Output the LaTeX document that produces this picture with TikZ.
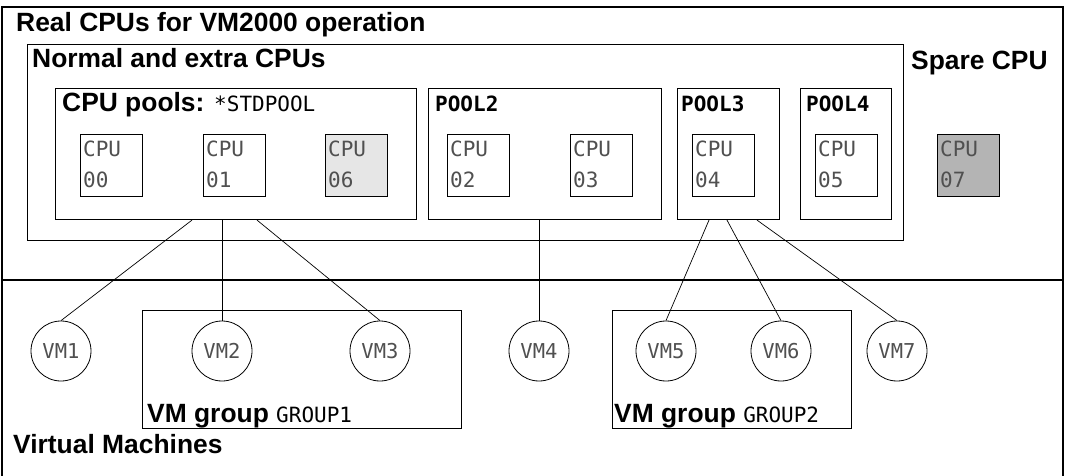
\documentclass[tikz,border=0pt]{standalone}
\usepackage{fontspec}
\setmainfont{Liberation Sans}
\newfontfamily\monof{DejaVu Sans Mono}
\usetikzlibrary{calc}
\definecolor{cpulight}{HTML}{E6E6E6}
\definecolor{cpudark}{HTML}{B4B4B4}
\definecolor{cputext}{HTML}{505050}
\begin{document}
\begin{tikzpicture}[x=1pt,y=-1pt,
  frame/.style={line width=1.1pt},
  title/.style={anchor=base west, inner sep=0pt, font=\fontsize{26.4}{26.4}\selectfont\bfseries},
  monot/.style={anchor=base west, inner sep=0pt, font=\fontsize{21}{21}\selectfont\monof\bfseries},
  area/.style={draw, line width=1.1pt, anchor=north west, inner sep=0pt},
  cpu/.style={draw, line width=1.1pt, anchor=north west, inner sep=0pt, minimum width=62pt, minimum height=62pt},
  cputxt/.style={anchor=base west, inner sep=0pt, text=cputext, font=\fontsize{21}{21}\selectfont\monof},
  vm/.style={draw, circle, line width=0.8pt, minimum size=60pt, inner sep=0pt, text=cputext, font=\fontsize{20.5}{20.5}\selectfont\monof},
  link/.style={line width=0.7pt}]
\useasboundingbox (0,0) rectangle (1069,476);
% outer frame and divider
\draw[frame] (2,476) -- (2,7) -- (1063,7) -- (1063,476);
\draw[frame] (2,280) -- (1063,280);
% titles
\node[title] (tReal) at (16,32) {Real CPUs for VM2000 operation};
\node[area, minimum width=876pt, minimum height=196pt] (normal) at (27,44) {};
\node[title] (tNormal) at (32,68) {Normal and extra CPUs};
\node[title] (tSpare) at (911,70) {Spare CPU};
% pools
\node[area, minimum width=361pt, minimum height=131pt] (stdpool) at (55,88) {};
\node[area, minimum width=233pt, minimum height=131pt] (pool2) at (428,88) {};
\node[area, minimum width=102pt, minimum height=131pt] (pool3) at (677,88) {};
\node[area, minimum width=91pt, minimum height=131pt] (pool4) at (800,88) {};
\node[title] (tStd) at (62,112) {CPU pools: {\fontsize{21}{21}\selectfont\monof\mdseries *STDPOOL}};
\node[monot] (tP2) at (435,112) {POOL2};
\node[monot] (tP3) at (681,112) {POOL3};
\node[monot] (tP4) at (806,112) {POOL4};
% CPUs
\foreach \n/\x/\num/\f in {c00/80/00/white, c01/203/01/white, c06/325/06/cpulight,
  c02/447/02/white, c03/570/03/white, c04/692/04/white, c05/815/05/white, c07/937/07/cpudark} {
  \node[cpu, fill=\f] (\n) at (\x,134) {};
  \node[cputxt] (\n-a) at ($(\n.north west)+(3,23)$) {CPU};
  \node[cputxt] (\n-b) at ($(\n.north west)+(3,54)$) {\num};
}
% VM groups
\node[area, minimum width=319pt, minimum height=118pt] (group1) at (142,310) {};
\node[area, minimum width=239pt, minimum height=118pt] (group2) at (612,310) {};
\node[title] (tG1) at (147,422) {VM group {\fontsize{21}{21}\selectfont\monof\mdseries GROUP1}};
\node[title] (tG2) at (614,422) {VM group {\fontsize{21}{21}\selectfont\monof\mdseries GROUP2}};
\node[title] (tVM) at (13,453) {Virtual Machines};
% VMs
\node[vm] (vm1) at (61,351) {VM1};
\node[vm] (vm2) at (222,351) {VM2};
\node[vm] (vm3) at (380,351) {VM3};
\node[vm] (vm4) at (539,351) {VM4};
\node[vm] (vm5) at (666,351) {VM5};
\node[vm] (vm6) at (781,351) {VM6};
\node[vm] (vm7) at (897,351) {VM7};
% connector start points
\coordinate (s1) at ($(stdpool.south west)+(137,0)$);
\coordinate (s2) at ($(stdpool.south west)+(167,0)$);
\coordinate (s3) at ($(stdpool.south west)+(202,0)$);
\coordinate (p2) at ($(pool2.south west)+(111,0)$);
\coordinate (q1) at ($(pool3.south west)+(32,0)$);
\coordinate (q2) at ($(pool3.south west)+(50,0)$);
\coordinate (q3) at ($(pool3.south west)+(80,0)$);
\draw[link] (s1) -- (vm1.north);
\draw[link] (s2) -- (vm2.north);
\draw[link] (s3) -- (vm3.north);
\draw[link] (p2) -- (vm4.north);
\draw[link] (q1) -- (vm5.north);
\draw[link] (q2) -- (vm6.north);
\draw[link] (q3) -- (vm7.north);
\end{tikzpicture}
\end{document}
